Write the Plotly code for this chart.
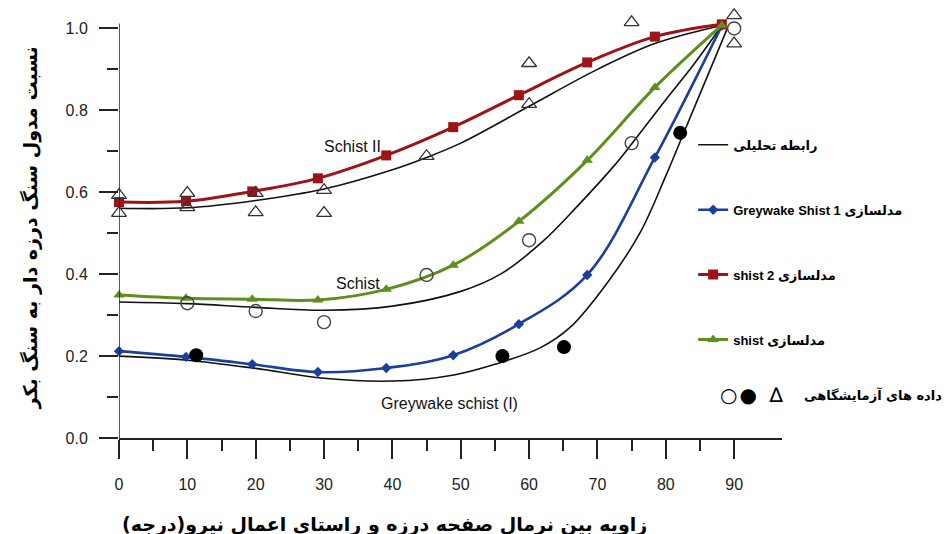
import plotly.graph_objects as go

# ---------------- data ----------------
# modelled curves (with markers)
model_x = [0, 9.8, 19.5, 29.1, 39.1, 48.9, 58.5, 68.5, 78.4, 88.2]
shist2_model = [0.576, 0.578, 0.602, 0.634, 0.690, 0.759, 0.837, 0.917, 0.980, 1.010]
shist_model = [0.349, 0.341, 0.339, 0.337, 0.363, 0.422, 0.529, 0.678, 0.856, 1.008]
greywake_model = [0.212, 0.198, 0.180, 0.161, 0.171, 0.202, 0.278, 0.398, 0.685, 1.007]

# analytical relations (black lines)
schist2_an_x = [0, 10, 20, 30, 40, 45, 50, 60, 70, 78.4, 88.2]
schist2_an_y = [0.561, 0.562, 0.580, 0.608, 0.655, 0.685, 0.720, 0.810, 0.900, 0.963, 1.007]
schist_an_x = [0, 10, 20, 30, 40, 50, 56, 62, 67, 72.3, 75.1, 80, 84, 88.2]
schist_an_y = [0.332, 0.328, 0.319, 0.312, 0.322, 0.358, 0.402, 0.480, 0.565, 0.662, 0.720, 0.826, 0.910, 1.007]
grey_an_x = [0, 10, 20, 30, 40, 49, 55, 61.6, 66, 71.4, 76.2, 80, 83, 86, 89]
grey_an_y = [0.200, 0.190, 0.170, 0.146, 0.139, 0.154, 0.180, 0.220, 0.270, 0.378, 0.500, 0.640, 0.760, 0.880, 1.000]

# laboratory data
tri_x = [0, 0, 10, 10, 20, 20, 30, 30, 45, 60, 60, 75, 90, 90]
tri_y = [0.593, 0.549, 0.598, 0.563, 0.598, 0.551, 0.605, 0.549, 0.688, 0.915, 0.815, 1.015, 1.032, 0.963]
open_x = [10, 20, 30, 45, 60, 75, 90]
open_y = [0.329, 0.310, 0.283, 0.398, 0.483, 0.720, 1.000]
fill_x = [11.3, 56.1, 65.1, 82.1]
fill_y = [0.202, 0.200, 0.222, 0.745]

x_ticks = [0, 10, 20, 30, 40, 50, 60, 70, 80, 90]
x_minor = [5, 15, 25, 35, 45, 55, 65, 75, 85]
y_ticks = [0.0, 0.2, 0.4, 0.6, 0.8, 1.0]
y_minor = [0.1, 0.3, 0.5, 0.7, 0.9]
y_ticklabels = ["0.0", "0.2", "0.4", "0.6", "0.8", "1.0"]

legend_analytic = "<b>رابطه تحلیلی</b>"
legend_grey = "<b>Greywake Shist 1 مدلسازی</b>"
legend_shist2 = "<b>shist 2 مدلسازی</b>"
legend_shist = "<b>shist مدلسازی</b>"
legend_lab = "داده های آزمایشگاهی"
x_title = "زاویه بین نرمال صفحه درزه و راستای اعمال نیرو(درجه)\u200F"
y_title = "نسبت مدول سنگ درزه دار به سنگ بکر"

# ---------------- figure ----------------
fig = go.Figure()

black_line = dict(color="#111111", width=1.6, shape="spline")
fig.add_trace(go.Scatter(x=schist2_an_x, y=schist2_an_y, mode="lines", line=black_line,
                         name=legend_analytic, showlegend=True, legendrank=1, legendgroup="a",
                         cliponaxis=False))
fig.add_trace(go.Scatter(x=schist_an_x, y=schist_an_y, mode="lines", line=black_line,
                         showlegend=False, legendgroup="a", cliponaxis=False))
fig.add_trace(go.Scatter(x=grey_an_x, y=grey_an_y, mode="lines", line=black_line,
                         showlegend=False, legendgroup="a", cliponaxis=False))

fig.add_trace(go.Scatter(x=model_x, y=greywake_model, mode="lines+markers", name=legend_grey,
                         line=dict(color="#1C3F9C", width=2.6, shape="spline"),
                         marker=dict(symbol="diamond", size=8, color="#1C3F9C"),
                         legendrank=2, legendgroup="b", cliponaxis=False))
fig.add_trace(go.Scatter(x=model_x, y=shist2_model, mode="lines+markers", name=legend_shist2,
                         line=dict(color="#9E1318", width=3, shape="spline"),
                         marker=dict(symbol="square", size=10, color="#9E1318"),
                         legendrank=3, legendgroup="c", cliponaxis=False))
fig.add_trace(go.Scatter(x=model_x, y=shist_model, mode="lines+markers", name=legend_shist,
                         line=dict(color="#5E8E1C", width=3, shape="spline"),
                         marker=dict(symbol="triangle-up", size=10, color="#5E8E1C"),
                         legendrank=4, legendgroup="d", cliponaxis=False))

fig.add_trace(go.Scatter(x=tri_x, y=tri_y, mode="markers", showlegend=False, cliponaxis=False,
                         marker=dict(symbol="triangle-up-open", size=13,
                                     color="#333333", line=dict(width=1.3, color="#333333"))))
fig.add_trace(go.Scatter(x=open_x, y=open_y, mode="markers", showlegend=False, cliponaxis=False,
                         marker=dict(symbol="circle-open", size=13,
                                     color="#444444", line=dict(width=1.4, color="#444444"))))
fig.add_trace(go.Scatter(x=fill_x, y=fill_y, mode="markers", showlegend=False, cliponaxis=False,
                         marker=dict(symbol="circle", size=14, color="#000000")))

label_font = dict(family="Liberation Sans, Arial, sans-serif", size=16, color="#111111")
fig.add_annotation(x=34.1, y=0.712, text="Schist II", showarrow=False, font=label_font)
fig.add_annotation(x=35.0, y=0.378, text="Schist", showarrow=False, font=label_font)
fig.add_annotation(x=48.3, y=0.085, text="Greywake schist (I)", showarrow=False, font=label_font)

# legend row for laboratory data
fig.add_annotation(xref="paper", yref="paper", x=0.954, y=0.10, xanchor="center", yanchor="middle",
                   text="○\u200a●  ∆", showarrow=False,
                   font=dict(family="DejaVu Sans", size=20, color="#000000"))
fig.add_annotation(xref="paper", yref="paper", x=1.245, y=0.10, xanchor="right", yanchor="middle",
                   text="<b>" + legend_lab + "</b>", showarrow=False,
                   font=dict(family="DejaVu Sans", size=13, color="#000000"))

# axis titles
fig.add_annotation(xref="paper", yref="paper", x=0.401, y=-0.202, xanchor="center", yanchor="middle",
                   text="<b>" + x_title + "</b>", showarrow=False,
                   font=dict(family="DejaVu Sans", size=19, color="#000000"))
fig.add_annotation(xref="paper", yref="paper", x=-0.134, y=0.49, xanchor="center", yanchor="middle",
                   text="<b>" + y_title + "</b>", showarrow=False, textangle=-90,
                   font=dict(family="DejaVu Sans", size=19, color="#000000"))

# vertical axis line (ends a little above 1.0, as in the reference)
fig.add_shape(type="line", xref="x", yref="y", x0=0, x1=0, y0=0, y1=1.012,
              line=dict(color="#222222", width=1.5), layer="above")

tick_font = dict(family="Liberation Sans, Arial, sans-serif", size=16, color="#222222")
fig.update_layout(
    width=947, height=534,
    margin=dict(l=119, r=165, t=9.5, b=96),
    paper_bgcolor="white", plot_bgcolor="white",
    xaxis=dict(range=[0, 97], tickvals=x_ticks, ticklabelstandoff=12,
               showline=True, linecolor="#222222", linewidth=1.5,
               ticks="outside", tickcolor="#222222", tickwidth=1.5, ticklen=19,
               showgrid=False, zeroline=False, tickfont=tick_font,
               minor=dict(tickvals=x_minor, ticks="outside",
                          ticklen=11, tickwidth=1.5, tickcolor="#222222")),
    yaxis=dict(range=[0, 1.045], tickvals=y_ticks, ticktext=y_ticklabels, ticklabelstandoff=8,
               showline=False,
               ticks="outside", tickcolor="#222222", tickwidth=1.5, ticklen=19,
               showgrid=False, zeroline=False, tickfont=tick_font,
               minor=dict(tickvals=y_minor, ticks="outside",
                          ticklen=11, tickwidth=1.5, tickcolor="#222222")),
    legend=dict(x=0.866, y=0.72, xanchor="left", yanchor="top",
                font=dict(family="Liberation Sans, DejaVu Sans, sans-serif", size=13, color="#000000"),
                tracegroupgap=45, bgcolor="rgba(0,0,0,0)", itemwidth=30),
    showlegend=True,
)

fig.write_html("out.html")
